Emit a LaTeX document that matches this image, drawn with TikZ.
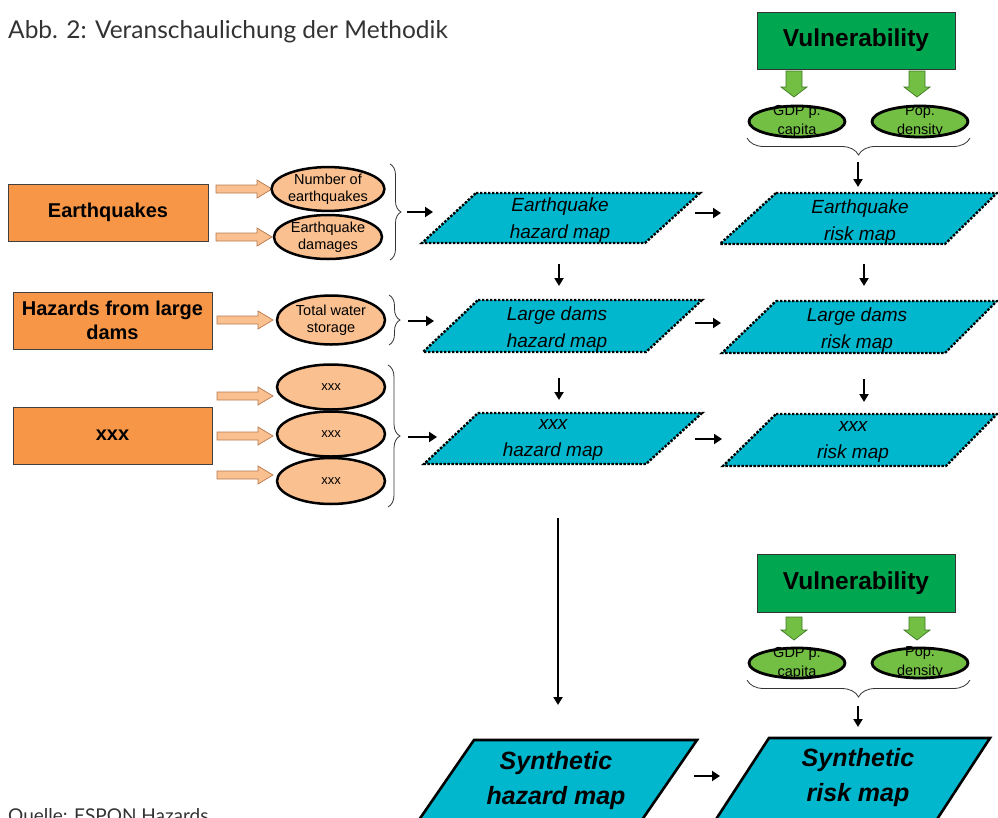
\documentclass[tikz,border=0pt]{standalone}
\usepackage{fontspec}
\setmainfont{Liberation Sans}
\newfontfamily\titlefont{Lato}
\usetikzlibrary{decorations.pathreplacing,arrows.meta,shapes.geometric}
\definecolor{cyanmap}{HTML}{00B7CE}
\definecolor{orbox}{HTML}{F79646}
\definecolor{peach}{HTML}{FAC090}
\definecolor{peachline}{HTML}{B87A50}
\definecolor{vgreen}{HTML}{00A650}
\definecolor{lgreen}{HTML}{72BF44}
\definecolor{dgreen}{HTML}{3E7A22}
\newcommand\blockR[3]{%
  \filldraw[fill=peach,draw=peachline,line width=0.7pt]
   (#1,#3-4) -- (#2-15,#3-4) -- (#2-15,#3-9) -- (#2,#3) -- (#2-15,#3+9) -- (#2-15,#3+4) -- (#1,#3+4) -- cycle;}
\newcommand\blockD[3]{%
  \filldraw[fill=lgreen,draw=dgreen,line width=0.7pt]
   (#1-8,#2) -- (#1+8,#2) -- (#1+8,#3-10) -- (#1+13,#3-10) -- (#1,#3) -- (#1-13,#3-10) -- (#1-8,#3-10) -- cycle;}
\tikzset{
  hazbox/.style={draw=black!75,line width=0.8pt,fill=orbox,align=center,
    font=\bfseries\fontsize{20}{24}\selectfont,minimum width=199pt,minimum height=57pt,inner sep=0pt},
  vulbox/.style={draw=black!80,line width=0.8pt,fill=vgreen,
    font=\bfseries\fontsize{24.5}{28}\selectfont,minimum width=198pt,minimum height=57pt,inner sep=0pt},
  pell/.style={ellipse,draw=black,line width=2.5pt,fill=peach,minimum width=108pt,
    minimum height=44pt,inner sep=0pt,align=center,font=\fontsize{14.5}{17.5}\selectfont},
  gell/.style={ellipse,draw=black,line width=2.8pt,fill=lgreen,minimum width=96pt,
    minimum height=31pt,inner sep=0pt},
  gtext/.style={align=center,font=\fontsize{14.5}{19}\selectfont,inner sep=0pt},
  mapdot/.style={fill=cyanmap,draw=black,line width=2.4pt,dash pattern=on 2.4pt off 1.6pt},
  mapsolid/.style={fill=cyanmap,draw=black,line width=2.6pt,line join=miter},
  maptext/.style={align=center,font=\itshape\fontsize{19}{27}\selectfont,inner sep=0pt},
  syntext/.style={align=center,font=\bfseries\itshape\fontsize{25}{35}\selectfont,inner sep=0pt},
  brc/.style={decorate,draw=black!80,line width=0.8pt},
  arr/.style={draw=black,line width=2.8pt,-{Triangle[length=8pt,width=10pt]}},
  arrthin/.style={draw=black,line width=2pt,-{Triangle[length=8pt,width=9pt]}}
}
\begin{document}
\begin{tikzpicture}[x=1pt,y=-1pt]
\useasboundingbox (0,0) rectangle (998,817);
\clip (0,0) rectangle (998,817);

% title and source
\node[anchor=base west,inner sep=0pt,text=black!80,font=\titlefont\fontsize{24.5}{28}\selectfont] (title) at (8,38) {Abb. 2: Veranschaulichung der Methodik};
\node[anchor=base west,inner sep=0pt,text=black!80,font=\titlefont\fontsize{19}{22}\selectfont] (src) at (8,822) {Quelle: ESPON Hazards};

% hazard boxes
\node[hazbox,minimum width=200pt] (eq) at (108,212.5) {Earthquakes};
\node[hazbox] (ld) at (112.5,320.5) {Hazards from large\\dams};
\node[hazbox] (xx) at (112.5,435.5) {xxx};

% peach block arrows
\blockR{216}{272}{189}
\blockR{216}{272}{237}
\blockR{217}{273}{320}
\blockR{217}{273}{396}
\blockR{217}{273}{436}
\blockR{217}{273}{475}

% peach ellipses
\node[pell,minimum height=42pt] (n1) at (328,189) {Number of\\earthquakes};
\node[pell] (n2) at (328,237) {Earthquake\\damages};
\node[pell,minimum height=49pt] (n3) at (331,320) {Total water\\storage};
\node[pell,minimum height=45pt,font=\fontsize{13}{15}\selectfont] (x1) at (331,387) {xxx};
\node[pell,minimum height=45pt,font=\fontsize{13}{15}\selectfont] (x2) at (331,434) {xxx};
\node[pell,minimum height=46pt,font=\fontsize{13}{15}\selectfont] (x3) at (331,481) {xxx};

% braces on the left
\draw[brc,decoration={brace,amplitude=11pt}] (390,164) -- (390,260);
\draw[brc,decoration={brace,amplitude=11pt}] (389,295) -- (389,345);
\draw[brc,decoration={brace,amplitude=12pt}] (388,365) -- (388,507);

% map parallelograms
\draw[mapdot] (476,193) -- (700,193) -- (645,243) -- (422,243) -- cycle;
\draw[mapdot] (776,193) -- (997,193) -- (945,244) -- (720,244) -- cycle;
\draw[mapdot] (478,300) -- (702,300) -- (646,352) -- (423,352) -- cycle;
\draw[mapdot] (776,301) -- (997,301) -- (945,353) -- (722,353) -- cycle;
\draw[mapdot] (478,413) -- (702,413) -- (646,464) -- (424,464) -- cycle;
\draw[mapdot] (776,414) -- (997,414) -- (946,466) -- (723,466) -- cycle;
\draw[mapsolid] (474,740) -- (697,740) -- (635,830) -- (412,830) -- cycle;
\draw[mapsolid] (769,738) -- (990,738) -- (930,830) -- (709,830) -- cycle;

\node[maptext] (h1) at (560,220) {Earthquake\\hazard map};
\node[maptext] (r1) at (860,222) {Earthquake\\risk map};
\node[maptext] (h2) at (557,329) {Large dams\\hazard map};
\node[maptext] (r2) at (857,330) {Large dams\\risk map};
\node[maptext] (h3) at (553,440) {xxx\\hazard map};
\node[maptext] (r3) at (853,442) {xxx\\risk map};
\node[syntext] (hs) at (556,781) {Synthetic\\hazard map};
\node[syntext] (rs) at (858,778) {Synthetic\\risk map};

% vulnerability blocks
\node[vulbox] (v1) at (856,40.5) {Vulnerability};
\node[vulbox,minimum height=58pt] (v2) at (856,583) {Vulnerability};
\blockD{794}{71}{97}
\blockD{917}{71}{97}
\blockD{794}{617}{640}
\blockD{917}{617}{640}
\node[gell] (g1) at (797,121.5) {};
\node[gell] (g2) at (920,121.5) {};
\node[gtext] at (g1) {GDP p.\\capita};
\node[gtext] at (g2) {Pop.\\density};
\node[gell,minimum height=30pt] (g3) at (797,663) {};
\node[gell,minimum height=30pt] (g4) at (920,663) {};
\node[gtext] at (g3) {GDP p.\\capita};
\node[gtext] at (g4) {Pop.\\density};
\draw[brc,decoration={brace,amplitude=17pt}] (970,138) -- (747,138);
\draw[brc,decoration={brace,amplitude=17pt}] (970,680) -- (747,680);

% black arrows
\draw[arr] (407,212) -- (433,212);
\draw[arr] (408,321) -- (434,321);
\draw[arr] (408,437) -- (437,437);
\draw[arr] (695,213) -- (721,213);
\draw[arr] (695,323) -- (721,323);
\draw[arr] (695,439) -- (722,439);
\draw[arr] (694,776) -- (720,776);
\draw[arrthin] (559,264) -- (559,286);
\draw[arrthin] (559,378) -- (559,400);
\draw[arrthin] (864,264) -- (864,286);
\draw[arrthin] (864,379) -- (864,402);
\draw[arrthin] (858,162) -- (858,187);
\draw[arrthin] (858,706) -- (858,727);
\draw[arrthin] (558,518) -- (558,705);
\end{tikzpicture}
\end{document}
